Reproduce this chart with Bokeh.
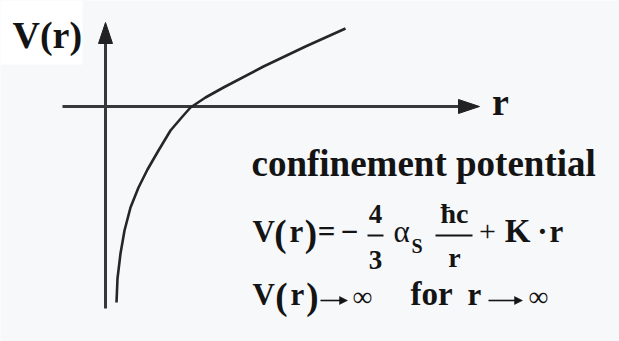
from bokeh.plotting import figure
from bokeh.models import Range1d
from bokeh.core.properties import value
from bokeh.embed import file_html
from bokeh.resources import INLINE

# Sketch of the quark confinement potential V(r) = -a/r + K r
r_vals = [11, 12, 15, 19, 25, 33, 42, 53, 65, 77, 85, 100, 118, 158, 200, 240]
v_vals = [-196, -172, -147, -124, -101, -81, -63, -44, -24, -10, -1, 9, 19, 40, 60, 78]

title_text = "confinement potential"
axis_v_label = "V(r)"
axis_r_label = "r"

W, H = 619, 341
X0, Y0 = 105, 106  # where the two axes cross, in screen pixels

p = figure(width=W, height=H, output_backend="svg", toolbar_location=None,
           x_range=Range1d(-X0, W - X0), y_range=Range1d(Y0 - H, Y0),
           min_border=0, background_fill_color="#f7f8fa",
           border_fill_color="#f7f8fa")
p.axis.visible = False
p.grid.visible = False
p.outline_line_color = None


def px(x):
    return x - X0


def py(y):
    return Y0 - y


SERIF = value("'Liberation Serif', 'Times New Roman', serif")
INK = "#141414"
LINE = "#383838"
# the text glyph lands about 0.36 em below the requested y, so lift it
LIFT = 0.36


def txt(x, y, s, size, bold=True, align="left", font=SERIF, color=INK):
    p.text(x=[px(x)], y=[py(y - LIFT * size)], text=[s], text_font=font,
           text_font_size=f"{size}px",
           text_font_style="bold" if bold else "normal",
           text_align=align, text_baseline="alphabetic", text_color=color)


def small_arrow(x0, x1, y):
    p.segment(x0=[px(x0)], y0=[py(y)], x1=[px(x1 - 4)], y1=[py(y)],
              line_color=INK, line_width=1.6)
    p.patch(x=[px(x1), px(x1 - 8), px(x1 - 8)], y=[py(y), py(y - 4), py(y + 4)],
            fill_color=INK, line_color=INK, line_width=0.5)


# white patch behind the vertical axis name
p.quad(left=[px(0)], right=[px(82)], top=[py(0)], bottom=[py(64)],
       fill_color="white", line_color=None)

# axes with arrow heads
p.segment(x0=[0], y0=[py(308)], x1=[0], y1=[py(40)], line_color=LINE, line_width=3)
p.segment(x0=[px(62)], y0=[0], x1=[px(460)], y1=[0], line_color=LINE, line_width=3)
p.patch(x=[0, -7, 7], y=[py(22), py(43), py(43)], fill_color="#222222", line_color="#222222")
p.patch(x=[px(479), px(458), px(458)], y=[0, 7, -7], fill_color="#222222", line_color="#222222")

# potential curve
p.line(r_vals, v_vals, line_color="#262626", line_width=2.6)

# axis names
txt(12, 48, axis_v_label, 38)
txt(500, 115, axis_r_label, 38, align="center")

# heading
txt(251, 176, title_text, 37)

# V(r) = -4/3 alpha_S hbar c / r + K r
B2 = 242
txt(252, B2, "V", 31)
txt(280, B2 + 4, "(", 37, align="center")
txt(296, B2, "r", 31, align="center")
txt(310.5, B2 + 4, ")", 37, align="center")
txt(326, B2, "=", 31, align="center")
txt(349, B2, "\u2212", 31, align="center")
txt(375, 223, "4", 27, align="center")
p.segment(x0=[px(367)], y0=[py(235)], x1=[px(383)], y1=[py(235)], line_color=INK, line_width=2)
txt(375, 269, "3", 27, align="center")
txt(401, B2, "\u03b1", 31, bold=False, align="center")
txt(411, 253, "S", 20)
txt(454, 223, "\u0127c", 28, align="center")
p.segment(x0=[px(435)], y0=[py(235)], x1=[px(472)], y1=[py(235)], line_color=INK, line_width=2)
txt(454, 267, "r", 28, align="center")
txt(487, B2, "+", 30, bold=False, align="center")
txt(517, B2, "K", 33, align="center")
txt(542, B2, "\u00b7", 31, align="center")
txt(556, B2, "r", 31, align="center")

# V(r) -> infinity for r -> infinity
B3 = 305
txt(252, B3, "V", 31)
txt(281, B3 + 4, "(", 37, align="center")
txt(297, B3, "r", 31, align="center")
txt(312, B3 + 4, ")", 37, align="center")
small_arrow(320, 347, 300)
txt(362, B3 + 1, "\u221e", 28, bold=False, align="center")
txt(431, B3, "for", 33, align="center")
txt(474, B3, "r", 31, align="center")
small_arrow(488, 522, 300)
txt(538, B3 + 1, "\u221e", 28, bold=False, align="center")

open("out.html", "w").write(file_html(p, INLINE))
